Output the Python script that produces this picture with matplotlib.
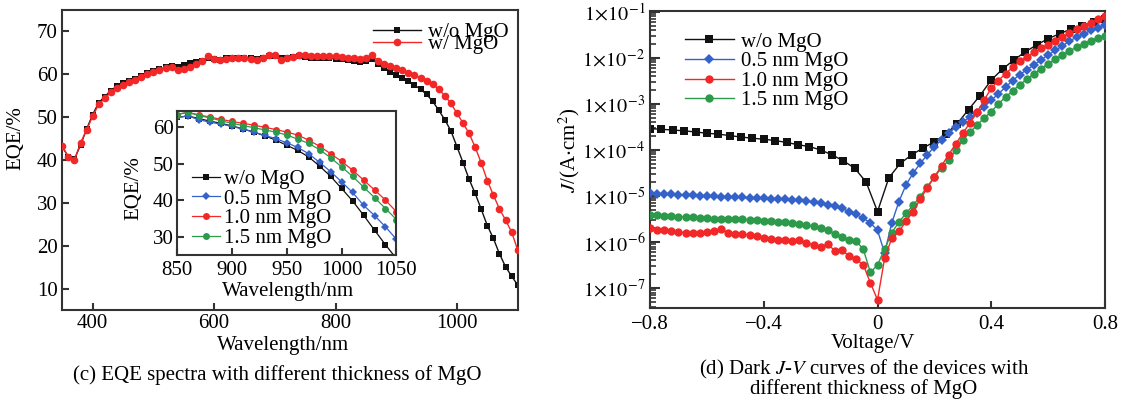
import numpy as np
import matplotlib
matplotlib.use("Agg")
import matplotlib.pyplot as plt
from matplotlib.ticker import FixedLocator, LogLocator, NullFormatter

plt.rcParams['font.family'] = ['Liberation Serif', 'DejaVu Serif']
plt.rcParams['mathtext.fontset'] = 'stix'
plt.rcParams['font.size'] = 15

# ---------------- (c) EQE spectra ----------------
wavelength = np.arange(350, 1101, 10)
eqe_wo_mgo = [43.0, 40.8, 40.2, 43.5, 47.2, 50.6, 53.4, 54.8,
              56.2, 57.3, 58.0, 58.5, 59.0, 59.7, 60.4, 60.8,
              61.2, 61.6, 62.0, 61.8, 62.2, 62.6, 62.9, 63.2,
              63.9, 63.6, 63.4, 63.7, 63.9, 63.8, 63.9, 63.7,
              63.6, 63.8, 64.3, 64.2, 63.8, 63.9, 64.0, 64.3,
              64.1, 63.9, 63.8, 63.7, 63.7, 63.6, 63.5, 63.3,
              63.0, 62.8, 63.2, 63.6, 62.4, 61.4, 60.6, 59.9,
              59.2, 58.5, 57.5, 56.5, 55.3, 53.7, 51.6, 49.4,
              46.8, 43.1, 39.4, 35.5, 32.2, 28.5, 24.7, 21.7,
              18.1, 15.1, 12.9, 10.8]
eqe_w_mgo = [43.3, 40.6, 40.0, 44.0, 47.0, 50.2, 53.0, 54.4,
             55.8, 56.9, 57.6, 58.1, 58.6, 59.3, 60.1, 60.5,
             61.0, 61.4, 61.8, 61.0, 61.2, 61.6, 62.4, 63.0,
             64.2, 63.6, 63.3, 63.6, 63.8, 63.7, 63.8, 63.5,
             63.4, 63.8, 64.6, 64.4, 63.4, 63.8, 64.1, 64.6,
             64.4, 64.2, 64.2, 64.2, 64.2, 64.2, 64.1, 63.9,
             63.7, 63.6, 63.9, 64.4, 63.2, 62.5, 61.9, 61.4,
             60.9, 60.4, 59.8, 59.1, 58.5, 57.7, 56.5, 55.0,
             53.2, 50.9, 48.6, 46.2, 43.0, 39.3, 35.2, 31.8,
             28.6, 26.0, 23.2, 19.0]

# inset: 850-1050 nm
wl_inset = np.arange(850, 1051, 10)
inset_wo = [62.6, 63.0, 62.3, 61.6, 61.0, 60.3, 59.5, 58.6, 57.6, 56.4, 55.0,
            53.6, 51.8, 49.3, 46.5, 43.2, 39.8, 35.9, 31.8, 27.8, 24.0]
inset_05 = [62.6, 63.0, 62.0, 61.3, 60.8, 60.2, 59.4, 58.6, 57.7, 56.8, 55.7,
            54.4, 52.7, 50.3, 47.8, 45.0, 42.1, 38.6, 35.8, 32.7, 29.3]
inset_10 = [63.4, 64.0, 63.3, 62.7, 62.1, 61.5, 61.0, 60.5, 59.9, 59.3, 58.6,
            57.8, 56.4, 54.7, 52.7, 50.6, 48.2, 45.5, 42.8, 40.0, 36.8]
inset_15 = [63.4, 64.0, 63.1, 62.5, 61.7, 61.0, 60.4, 59.8, 59.2, 58.6, 57.8,
            56.7, 55.5, 53.8, 51.6, 49.1, 46.5, 43.6, 40.7, 37.7, 34.7]

# ---------------- (d) dark J-V ----------------
v_ref = np.linspace(-0.8, 0.8, 41)
j_wo = [2.9e-4, 2.8e-4, 2.7e-4, 2.6e-4, 2.45e-4, 2.3e-4, 2.2e-4, 2.05e-4,
        1.9e-4, 1.8e-4, 1.7e-4, 1.6e-4, 1.45e-4, 1.3e-4, 1.18e-4, 1.0e-4,
        7.8e-5, 5.8e-5, 4.0e-5, 2.0e-5, 4.6e-6, 2.5e-5, 5.1e-5, 7.8e-5,
        1.1e-4, 1.5e-4, 2.2e-4, 3.7e-4, 7.5e-4, 1.5e-3, 3.3e-3, 5.7e-3,
        9.0e-3, 1.35e-2, 1.9e-2, 2.6e-2, 3.3e-2, 4.2e-2, 5.0e-2, 5.9e-2,
        7.0e-2]

v_dev = np.linspace(-0.8, 0.8, 65)
j_05 = [1.15e-5, 1.12e-5, 1.10e-5, 1.09e-5, 1.07e-5, 1.05e-5, 1.04e-5, 1.02e-5,
        1.00e-5, 9.9e-6, 9.7e-6, 9.6e-6, 9.5e-6, 9.3e-6, 9.2e-6, 9.0e-6,
        8.9e-6, 8.8e-6, 8.6e-6, 8.5e-6, 8.3e-6, 8.0e-6, 7.7e-6, 7.3e-6,
        6.9e-6, 6.5e-6, 6.1e-6, 5.4e-6, 4.6e-6, 4.0e-6, 3.3e-6, 2.6e-6,
        1.8e-6, 5.8e-7, 2.6e-6, 7.5e-6, 1.74e-5, 3.1e-5, 5.1e-5, 7.8e-5,
        1.18e-4, 1.65e-4, 2.3e-4, 3.1e-4, 4.1e-4, 5.1e-4, 6.4e-4, 8.6e-4,
        1.2e-3, 1.65e-3, 2.3e-3, 3.2e-3, 4.3e-3, 5.5e-3, 7.0e-3, 9.0e-3,
        1.15e-2, 1.45e-2, 1.8e-2, 2.3e-2, 2.8e-2, 3.3e-2, 3.9e-2, 4.5e-2,
        5.2e-2]
j_10 = [2.0e-6, 1.85e-6, 1.8e-6, 1.72e-6, 1.65e-6, 1.6e-6, 1.58e-6, 1.55e-6,
        1.62e-6, 1.75e-6, 1.9e-6, 1.6e-6, 1.52e-6, 1.5e-6, 1.42e-6, 1.35e-6,
        1.25e-6, 1.15e-6, 1.1e-6, 1.1e-6, 1.05e-6, 1.1e-6, 9.5e-7, 8.8e-7,
        7.9e-7, 9.0e-7, 6.5e-7, 6.8e-7, 4.9e-7, 4.3e-7, 3.2e-7, 1.3e-7,
        5.6e-8, 4.5e-7, 1.2e-6, 1.7e-6, 2.8e-6, 4.6e-6, 8.5e-6, 1.5e-5,
        2.6e-5, 4.5e-5, 7.9e-5, 1.35e-4, 2.3e-4, 3.9e-4, 6.6e-4, 1.2e-3,
        2.2e-3, 3.2e-3, 4.5e-3, 6.2e-3, 8.3e-3, 1.05e-2, 1.3e-2, 1.6e-2,
        1.9e-2, 2.3e-2, 2.8e-2, 3.4e-2, 4.1e-2, 4.9e-2, 5.8e-2, 6.8e-2,
        8.0e-2]
j_15 = [3.9e-6, 3.8e-6, 3.7e-6, 3.6e-6, 3.55e-6, 3.5e-6, 3.45e-6, 3.4e-6,
        3.3e-6, 3.25e-6, 3.2e-6, 3.15e-6, 3.1e-6, 3.2e-6, 3.0e-6, 3.05e-6,
        2.9e-6, 2.8e-6, 2.75e-6, 2.7e-6, 2.6e-6, 2.5e-6, 2.4e-6, 2.2e-6,
        2.0e-6, 1.8e-6, 1.5e-6, 1.3e-6, 1.1e-6, 1.05e-6, 7.0e-7, 2.2e-7,
        3.2e-7, 7.0e-7, 1.6e-6, 2.7e-6, 4.2e-6, 6.3e-6, 9.7e-6, 1.6e-5,
        2.6e-5, 4.0e-5, 6.0e-5, 1.0e-4, 1.65e-4, 2.4e-4, 3.5e-4, 4.9e-4,
        6.8e-4, 1.0e-3, 1.4e-3, 1.9e-3, 2.6e-3, 3.4e-3, 4.5e-3, 5.8e-3,
        7.4e-3, 9.2e-3, 1.15e-2, 1.4e-2, 1.7e-2, 2.0e-2, 2.35e-2, 2.7e-2,
        3.0e-2]

BLACK = '#111111'
BLUE = '#3462c9'
RED = '#f22828'
GREEN = '#2c9a4a'
SPINE = '#333333'


def style_axes(ax, xpad=3, ypad=3.5):
    for sp in ax.spines.values():
        sp.set_linewidth(1.5)
        sp.set_color(SPINE)
    ax.tick_params(axis='both', which='major', direction='in', length=5,
                   width=1.5, color=SPINE, top=False, right=False,
                   labelsize=15)
    ax.tick_params(axis='x', pad=xpad)
    ax.tick_params(axis='y', pad=ypad)


fig = plt.figure(figsize=(11.35, 4.03), dpi=100)

# ---- left panel
ax1 = fig.add_axes([0.0549, 0.2308, 0.4012, 0.7444])
ax1.plot(wavelength, eqe_wo_mgo, color=BLACK, lw=1, marker='s', ms=5,
         mew=0, label='w/o MgO', zorder=2)
ax1.plot(wavelength, eqe_w_mgo, color=RED, lw=1, marker='o', ms=5.5,
         mew=0, label='w/ MgO', zorder=3)
ax1.set_xlim(350, 1100)
ax1.set_ylim(5, 75)
ax1.set_xticks([400, 600, 800, 1000])
ax1.set_yticks([10, 20, 30, 40, 50, 60, 70])
style_axes(ax1)
ax1.set_xlabel('Wavelength/nm', va='center')
ax1.xaxis.set_label_coords(0.485, -0.117)
ax1.set_ylabel('EQE/%', va='center')
ax1.yaxis.set_label_coords(-0.102, 0.573)
ax1.legend(loc='upper left', bbox_to_anchor=(0.682, 0.957), frameon=False,
           borderpad=0, borderaxespad=0, handlelength=2.3, handletextpad=0.37,
           labelspacing=-0.38, numpoints=1, fontsize=15)

# ---- inset
axi = fig.add_axes([0.1559, 0.3672, 0.1934, 0.3586])
axi.set_facecolor('white')
axi.plot(wl_inset, inset_wo, color=BLACK, lw=0.9, marker='s', ms=4.5, mew=0,
         label='w/o MgO')
axi.plot(wl_inset, inset_05, color=BLUE, lw=0.9, marker='D', ms=4.5, mew=0,
         label='0.5 nm MgO')
axi.plot(wl_inset, inset_10, color=RED, lw=0.9, marker='o', ms=5, mew=0,
         label='1.0 nm MgO')
axi.plot(wl_inset, inset_15, color=GREEN, lw=0.9, marker='o', ms=5, mew=0,
         label='1.5 nm MgO')
axi.set_xlim(850, 1050)
axi.set_ylim(25, 64.5)
axi.set_xticks([850, 900, 950, 1000, 1050])
axi.set_yticks([30, 40, 50, 60])
style_axes(axi, xpad=4.5, ypad=2.5)
axi.set_xlabel('Wavelength/nm', va='center')
axi.xaxis.set_label_coords(0.507, -0.254)
axi.set_ylabel('EQE/%', va='center')
axi.yaxis.set_label_coords(-0.196, 0.464)
axi.legend(loc='upper left', bbox_to_anchor=(0.067, 0.592), frameon=False,
           borderpad=0, borderaxespad=0, handlelength=1.35, handletextpad=0.2,
           labelspacing=0.0, numpoints=1, fontsize=15)

# ---- right panel
ax2 = fig.add_axes([0.5727, 0.2357, 0.4009, 0.7377])
ax2.plot(v_ref, j_wo, color=BLACK, lw=1, marker='s', ms=6, mew=0,
         label='w/o MgO', zorder=2)
ax2.plot(v_dev, j_05, color=BLUE, lw=1, marker='D', ms=5.5, mew=0,
         label='0.5 nm MgO', zorder=3)
ax2.plot(v_dev, j_10, color=RED, lw=1, marker='o', ms=6, mew=0,
         label='1.0 nm MgO', zorder=5)
ax2.plot(v_dev, j_15, color=GREEN, lw=1, marker='o', ms=6, mew=0,
         label='1.5 nm MgO', zorder=4)
ax2.set_yscale('log')
ax2.set_xlim(-0.8, 0.8)
ax2.set_ylim(10 ** -7.43, 10 ** -0.98)
ax2.set_xticks([-0.8, -0.4, 0, 0.4, 0.8])
ax2.set_xticklabels(['\u22120.8', '\u22120.4', '0', '0.4', '0.8'])
decades = [-7, -6, -5, -4, -3, -2, -1]
ax2.yaxis.set_major_locator(FixedLocator([10.0 ** d for d in decades]))
ax2.set_yticklabels([r'$1\!\times\!10^{%d}$' % d for d in decades])
ax2.yaxis.set_minor_locator(LogLocator(base=10, subs=np.arange(2, 10)))
ax2.yaxis.set_minor_formatter(NullFormatter())
style_axes(ax2, xpad=5, ypad=3.5)
ax2.tick_params(axis='y', which='major', length=7, labelsize=14.5)
ax2.tick_params(axis='y', which='minor', direction='in', length=4,
                width=1.2, color=SPINE, right=False)
ax2.tick_params(axis='x', which='minor', bottom=False, top=False)
ax2.set_xlabel('Voltage/V', va='center')
ax2.xaxis.set_label_coords(0.491, -0.118)
ax2.set_ylabel(r'$J$/(A$\cdot$cm$^2$)', va='center')
ax2.yaxis.set_label_coords(-0.178, 0.531)
ax2.legend(loc='upper left', bbox_to_anchor=(0.076, 0.928), frameon=False,
           borderpad=0, borderaxespad=0, handlelength=2.36, handletextpad=0.36,
           labelspacing=0.0, numpoints=1, fontsize=15)

# ---- captions
fig.text(0.2445, 0.0695, '(c) EQE spectra with different thickness of MgO',
         ha='center', va='center', fontsize=15)
fig.text(0.7612, 0.0830, r'(d) Dark $J$-$V$ curves of the devices with',
         ha='center', va='center', fontsize=15)
fig.text(0.7612, 0.0347, 'different thickness of MgO',
         ha='center', va='center', fontsize=15)

fig.savefig('out.png', dpi=100)
